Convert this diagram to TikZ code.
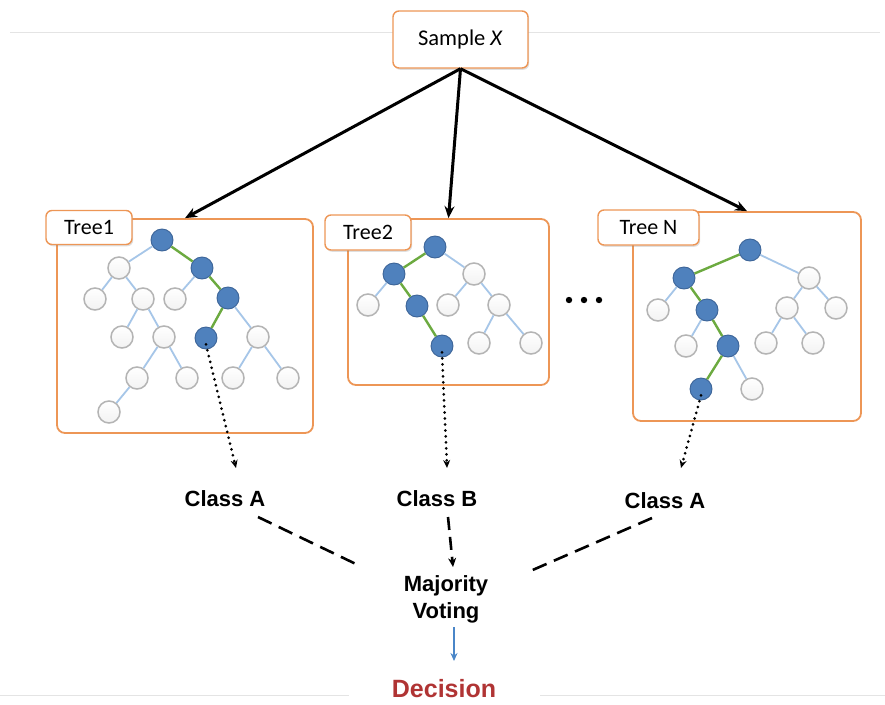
\documentclass[tikz,border=0pt]{standalone}
\usepackage{fontspec}
\setmainfont{Liberation Sans}
\newfontfamily\calibri{Carlito}
\usetikzlibrary{arrows.meta,shadows}

\definecolor{frameorange}{RGB}{237,150,86}
\definecolor{nodeblue}{RGB}{79,129,189}
\definecolor{nodeblueedge}{RGB}{60,100,152}
\definecolor{edgeblue}{RGB}{166,198,232}
\definecolor{edgegreen}{RGB}{108,170,64}
\definecolor{ringgray}{RGB}{180,180,180}
\definecolor{decisionred}{RGB}{176,52,52}
\definecolor{rulegray}{RGB}{228,228,228}
\definecolor{votearrow}{RGB}{74,134,200}

\tikzset{
  frame/.style={draw=frameorange, line width=1.8pt, rounded corners=8pt, fill=white, inner sep=0pt},
  tag/.style={draw=frameorange, line width=1.4pt, rounded corners=6pt, fill=white,
    drop shadow={shadow xshift=1.2pt, shadow yshift=-1.8pt, opacity=0.25},
    font=\calibri\fontsize{22}{26}\selectfont, inner sep=0pt},
  hit/.style={circle, minimum size=22pt, inner sep=0pt, fill=nodeblue, draw=nodeblueedge, line width=0.9pt},
  miss/.style={circle, minimum size=22pt, inner sep=0pt, top color=white, bottom color=black!5, draw=ringgray, line width=1.5pt},
  bough/.style={draw=edgeblue, line width=1.8pt},
  route/.style={draw=edgegreen, line width=2.4pt},
  feed/.style={line width=3pt, -{Stealth[length=12pt,width=10pt]}},
  outcome/.style={line width=3pt, dash pattern=on 0pt off 6pt, line cap=round, -{Stealth[length=8pt,width=7pt]}},
  ballot/.style={line width=2.6pt, dash pattern=on 15pt off 8pt},
  cls/.style={font=\bfseries\fontsize{22}{26}\selectfont, inner sep=1pt},
}

\begin{document}
\begin{tikzpicture}[x=1pt,y=-1pt]
\useasboundingbox (0,0) rectangle (885,704);

% faint page rules
\draw[rulegray, line width=1pt] (10,32) -- (880,32);
\draw[rulegray, line width=1pt] (0,695) -- (349,695);
\draw[rulegray, line width=1pt] (540,695) -- (885,695);

% input sample
\node[tag, font=\calibri\fontsize{22.5}{26}\selectfont, minimum width=135pt, minimum height=57pt] (sample) at (460.5,39.5) {Sample \textit{X}};

% tree frames
\node[frame, minimum width=256pt, minimum height=214pt] (frame1) at (185,326) {};
\node[frame, minimum width=201pt, minimum height=166pt] (frame2) at (448.5,302) {};
\node[frame, minimum width=228pt, minimum height=209pt] (frame3) at (747,316.5) {};

\node[tag, minimum width=86pt, minimum height=34pt] (tag1) at (89,227.5) {Tree1};
\node[tag, minimum width=86pt, minimum height=35pt] (tag2) at (368,232.5) {Tree2};
\node[tag, minimum width=101pt, minimum height=35pt] (tag3) at (648.5,227.5) {Tree N};

% sample fed to every tree
\draw[feed] (sample.south) -- (frame1.north);
\draw[feed] (sample.south) -- (frame2.north);
\draw[feed] (sample.south) -- (frame3.north);

% ---- Tree1 ----
\node[hit]  (a1)  at (162,240) {};
\node[miss] (a2)  at (119,268) {};
\node[hit]  (a3)  at (202,268) {};
\node[miss] (a4)  at (95,299) {};
\node[miss] (a5)  at (143,299) {};
\node[miss] (a6)  at (175,299) {};
\node[hit]  (a7)  at (228,298) {};
\node[miss] (a8)  at (122,337) {};
\node[miss] (a9)  at (164,337) {};
\node[hit]  (a10) at (206,338) {};
\node[miss] (a11) at (258,337) {};
\node[miss] (a12) at (137,378) {};
\node[miss] (a13) at (187,378) {};
\node[miss] (a14) at (233,378) {};
\node[miss] (a15) at (288,378) {};
\node[miss] (a16) at (109,412) {};
\foreach \u/\v in {a1/a2,a2/a4,a2/a5,a5/a8,a5/a9,a9/a12,a9/a13,a12/a16,a3/a6,a7/a11,a11/a14,a11/a15}
  \draw[bough] (\u) -- (\v);
\foreach \u/\v in {a1/a3,a3/a7,a7/a10}
  \draw[route] (\u) -- (\v);

% ---- Tree2 ----
\node[hit]  (b1)  at (435,247) {};
\node[hit]  (b2)  at (394,274) {};
\node[miss] (b3)  at (474,274) {};
\node[miss] (b4)  at (368,305) {};
\node[hit]  (b5)  at (417,306) {};
\node[miss] (b6)  at (448,305) {};
\node[miss] (b7)  at (499,305) {};
\node[hit]  (b8)  at (442,346) {};
\node[miss] (b9)  at (479,343) {};
\node[miss] (b10) at (531,343) {};
\foreach \u/\v in {b1/b3,b2/b4,b3/b6,b3/b7,b7/b9,b7/b10}
  \draw[bough] (\u) -- (\v);
\foreach \u/\v in {b1/b2,b2/b5,b5/b8}
  \draw[route] (\u) -- (\v);

% ---- Tree N ----
\node[hit]  (n1)  at (750,250) {};
\node[hit]  (n2)  at (684,278) {};
\node[miss] (n3)  at (809,278) {};
\node[miss] (n4)  at (658,310) {};
\node[hit]  (n5)  at (707,310) {};
\node[miss] (n6)  at (787,308) {};
\node[miss] (n7)  at (836,308) {};
\node[miss] (n8)  at (686,346) {};
\node[hit]  (n9)  at (728,346) {};
\node[miss] (n10) at (766,343) {};
\node[miss] (n11) at (813,343) {};
\node[hit]  (n12) at (701,389) {};
\node[miss] (n13) at (752,389) {};
\foreach \u/\v in {n1/n3,n2/n4,n3/n6,n3/n7,n5/n8,n6/n10,n6/n11,n9/n13}
  \draw[bough] (\u) -- (\v);
\foreach \u/\v in {n1/n2,n2/n5,n5/n9,n9/n12}
  \draw[route] (\u) -- (\v);

% ellipsis between the trees
\foreach \x in {569,584,599}
  \fill (\x,300) circle (3.2pt);

% class outputs
\node[cls] (c1) at (225,499) {Class A};
\node[cls] (c2) at (437,499) {Class B};
\node[cls] (c3) at (665,501) {Class A};

\coordinate (e1) at (236,468);
\coordinate (e2) at (447,468);
\coordinate (e3) at (681,468);
\draw[outcome] ([yshift=5pt]a10.south) -- (e1);
\draw[outcome] ([yshift=5pt]b8.south) -- (e2);
\draw[outcome] ([yshift=5pt]n12.south) -- (e3);

% voting
\node[cls, align=center, font=\bfseries\fontsize{22}{27}\selectfont] (vote) at (446,599) {Majority\\Voting};

\coordinate (l0) at (258,517);
\coordinate (l1) at (358,565);
\coordinate (r0) at (652,518);
\coordinate (r1) at (528,572);
\coordinate (m0) at (448,517);
\coordinate (m1) at (453,567);
\draw[ballot] (l0) -- (l1);
\draw[ballot] (r0) -- (r1);
\draw[ballot, dash pattern=on 13pt off 7pt, -{Stealth[length=9pt,width=8pt]}] (m0) -- (m1);

% final decision
\node[font=\bfseries\fontsize{25}{29}\selectfont, text=decisionred, inner sep=0pt] (decision) at (444,689) {Decision};
\coordinate (v0) at (454,627);
\coordinate (v1) at (454,661);
\draw[votearrow, line width=2.4pt, -{Stealth[length=8pt,width=7pt]}] (v0) -- (v1);
\end{tikzpicture}
\end{document}
